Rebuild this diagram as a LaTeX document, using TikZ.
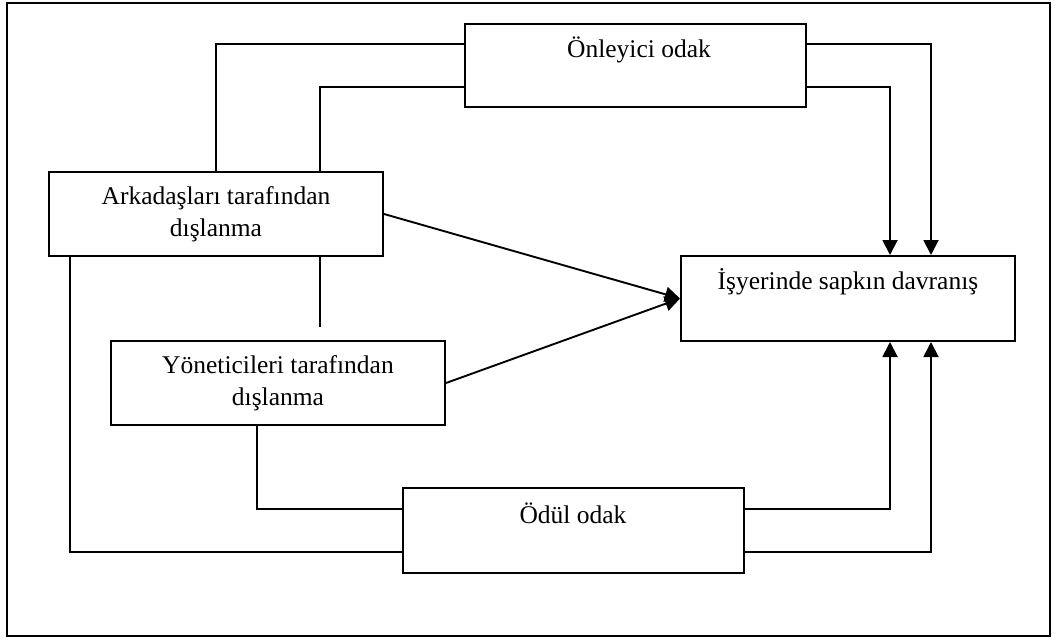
\documentclass[tikz,border=0pt]{standalone}
\usepackage{fontspec}
\setmainfont{Liberation Serif}
\usetikzlibrary{arrows.meta}
\begin{document}
\begin{tikzpicture}[x=1pt,y=-1pt,
  box/.style={draw, line width=2pt, rectangle, inner sep=0pt},
  txt/.style={inner sep=0pt, align=center, font=\fontsize{25.5}{31.5}\selectfont},
  conn/.style={line width=1.9pt},
  arr/.style={line width=1.9pt, -{Triangle[length=15pt,width=15pt]}}]
\useasboundingbox (0,0) rectangle (1058,641);
\draw[line width=1.6pt] (7,3) rectangle (1050,636);
% boxes
\node[box, minimum width=341pt, minimum height=83pt] (onl) at (635.5,65.5) {};
\node[txt] (onlt) at (639,50) {Önleyici odak};
\node[box, minimum width=334pt, minimum height=84pt, txt] (ark) at (216,214) {Arkadaşları tarafından\\dışlanma};
\node[box, minimum width=334pt, minimum height=84pt, txt] (yon) at (278,383) {Yöneticileri tarafından\\dışlanma};
\node[box, minimum width=334pt, minimum height=85pt] (isy) at (848,298.5) {};
\node[txt] (isyt) at (848,282) {İşyerinde sapkın davranış};
\node[box, minimum width=341pt, minimum height=85pt] (odl) at (573.5,530.5) {};
\node[txt] (odlt) at (573,513) {Ödül odak};
\coordinate (dang) at (320,327);
% connectors from Önleyici
\draw[conn] ([yshift=21.5pt]onl.west) -| (ark.north);
\draw[conn] ([yshift=-21.5pt]onl.west) -| ([xshift=104pt]ark.north);
\draw[arr] ([yshift=21.5pt]onl.east) -| ([xshift=83pt]isy.north);
\draw[arr] ([yshift=-21.5pt]onl.east) -| ([xshift=42pt]isy.north);
% Arkadaşları
\draw[conn] ([xshift=-146pt]ark.south) |- ([yshift=-21.5pt]odl.west);
\draw[conn] ([xshift=104pt]ark.south) -- (dang);
\draw[arr] (ark.east) -- (isy.west);
% Yöneticileri
\draw[arr] (yon.east) -- (isy.west);
\draw[conn] ([xshift=-21pt]yon.south) |- ([yshift=21.5pt]odl.west);
% Ödül
\draw[arr] ([yshift=21.5pt]odl.east) -| ([xshift=42pt]isy.south);
\draw[arr] ([yshift=-21.5pt]odl.east) -| ([xshift=83pt]isy.south);
\end{tikzpicture}
\end{document}
